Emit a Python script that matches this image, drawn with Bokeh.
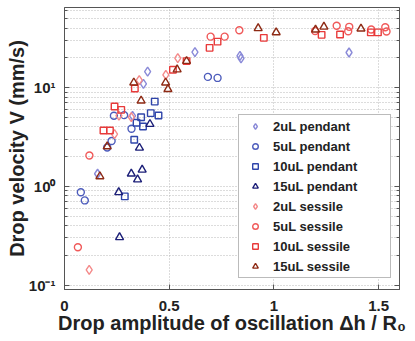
from bokeh.plotting import figure
from bokeh.models import LogAxis, FixedTicker, Legend, LegendItem
from bokeh.embed import file_html
from bokeh.resources import INLINE

# ---- data ----
p2_x = [0.158, 0.325, 0.377, 0.397, 0.623, 0.838, 0.843, 1.359]
p2_y = [1.34, 5.15, 10.9, 14.5, 22.8, 20.9, 19.7, 22.6]

p5_x = [0.078, 0.097, 0.204, 0.225, 0.236, 0.285, 0.320, 0.685, 0.731]
p5_y = [0.87, 0.72, 2.47, 2.87, 5.18, 5.25, 3.82, 12.8, 12.5]

p10_x = [0.288, 0.333, 0.344, 0.375, 0.366, 0.412, 0.431, 0.449]
p10_y = [0.79, 2.96, 4.4, 4.03, 5.0, 5.5, 7.2, 5.2]

p15_x = [0.263, 0.259, 0.319, 0.349, 0.371, 0.358, 0.408]
p15_y = [0.305, 0.87, 1.34, 1.17, 1.47, 2.45, 4.26]

s2_x = [0.118, 0.239, 0.260, 0.319, 0.357, 0.484, 0.541]
s2_y = [0.143, 3.38, 5.18, 5.02, 11.9, 13.4, 19.8]

s5_x = [0.064, 0.119, 0.698, 0.765, 0.835, 1.197, 1.300, 1.360, 1.355, 1.465, 1.532, 1.538]
s5_y = [0.242, 2.05, 32.7, 32.7, 37.9, 37.3, 42.1, 41.1, 37.1, 38.6, 40.7, 36.9]

s10_x = [0.186, 0.217, 0.239, 0.271, 0.336, 0.518, 0.583, 0.693, 0.731, 0.952, 1.228, 1.316, 1.463, 1.497]
s10_y = [3.67, 3.67, 6.43, 5.94, 9.77, 15.1, 18.5, 25.2, 29.1, 31.8, 34.1, 34.4, 36.1, 36.1]

s15_x = [0.169, 0.204, 0.331, 0.366, 0.483, 0.494, 0.538, 0.583, 0.925, 1.011, 1.199, 1.239, 1.416]
s15_y = [1.26, 2.53, 11.2, 7.35, 11.2, 9.6, 15.2, 18.5, 39.7, 36.1, 38.4, 41.1, 39.4]

x_ticks = [0, 0.5, 1, 1.5]
x_tick_labels = {0: "0", 0.5: "0.5", 1: "1", 1.5: "1.5"}
y_ticks = [0.1, 1, 10]
y_tick_labels = {0.1: "10\u207b\u00b9", 1: "10\u2070", 10: "10\u00b9"}
y_minor = [0.09, 0.2, 0.3, 0.4, 0.5, 0.6, 0.7, 0.8, 0.9, 2, 3, 4, 5, 6, 7, 8, 9, 20, 30, 40, 50, 60]

FONT = "Liberation Sans"
TXT = "#222222"
AX = "#555555"

p = figure(width=415, height=341, x_range=(0, 1.6), y_range=(0.0903, 64.5),
           y_axis_type="log", output_backend="svg", toolbar_location=None,
           min_border_left=64, min_border_right=16, min_border_top=7,
           min_border_bottom=52)
p.outline_line_color = AX
p.background_fill_color = "white"

series = [
    (p2_x, p2_y, "diamond", "#8a8ad8", 9, "2uL pendant"),
    (p5_x, p5_y, "circle", "#4d5cbc", 7, "5uL pendant"),
    (p10_x, p10_y, "square", "#2f45aa", 6.5, "10uL pendant"),
    (p15_x, p15_y, "triangle", "#1c1f78", 8, "15uL pendant"),
    (s2_x, s2_y, "diamond", "#f48a8a", 9, "2uL sessile"),
    (s5_x, s5_y, "circle", "#f05a5a", 7, "5uL sessile"),
    (s10_x, s10_y, "square", "#e83a3a", 6.5, "10uL sessile"),
    (s15_x, s15_y, "triangle", "#8e2a14", 8, "15uL sessile"),
]
items = []
for xs, ys, mk, col, sz, name in series:
    r = p.scatter(xs, ys, marker=mk, size=sz, fill_color=None, line_color=col, line_width=1.4)
    items.append(LegendItem(label=name, renderers=[r]))

# axes
xa = p.xaxis[0]
xa.ticker = FixedTicker(ticks=x_ticks)
xa.major_label_overrides = x_tick_labels
ya = p.yaxis[0]
ya.ticker = FixedTicker(ticks=y_ticks, minor_ticks=y_minor)
ya.major_label_overrides = y_tick_labels
for ax in (xa, ya):
    ax.major_tick_in = 5
    ax.major_tick_out = 0
    ax.minor_tick_in = 3
    ax.minor_tick_out = 0
    ax.axis_line_color = AX
    ax.major_tick_line_color = AX
    ax.minor_tick_line_color = AX
    ax.major_label_text_font = FONT
    ax.major_label_text_font_style = "bold"
    ax.major_label_text_font_size = "15px"
    ax.major_label_text_color = TXT
    ax.axis_label_text_font = FONT
    ax.axis_label_text_font_style = "bold"
    ax.axis_label_text_font_size = "20px"
    ax.axis_label_text_color = TXT
xa.minor_tick_line_color = None
xa.axis_label = "Drop amplitude of oscillation \u0394h / R\u2080"
ya.axis_label = "Drop velocity V (mm/s)"
xa.major_label_standoff = 11
xa.axis_label_standoff = -2
ya.major_label_standoff = 9
ya.axis_label_standoff = -2

ra = LogAxis(ticker=FixedTicker(ticks=y_ticks, minor_ticks=y_minor),
             major_label_overrides={0.1: "", 1: "", 10: ""},
             major_label_standoff=0,
             major_tick_in=5, major_tick_out=0, minor_tick_in=3, minor_tick_out=0,
             axis_line_color=AX, major_tick_line_color=AX,
             minor_tick_line_color=AX)
p.add_layout(ra, "right")

# grid
for g in (p.xgrid[0], p.ygrid[0]):
    g.grid_line_color = "#b8b8b8"
    g.grid_line_dash = "1 2"
    g.grid_line_width = 1
p.xgrid[0].ticker = FixedTicker(ticks=x_ticks)
p.ygrid[0].ticker = FixedTicker(ticks=y_ticks, minor_ticks=y_minor)
p.ygrid[0].minor_grid_line_color = "#b8b8b8"
p.ygrid[0].minor_grid_line_dash = "1 2"

legend = Legend(items=items, location=(174, 11), padding=1, spacing=0,
                glyph_width=30, glyph_height=14, label_height=20, label_width=116,
                label_standoff=3, label_text_font=FONT, label_text_font_style="bold",
                label_text_font_size="13px", label_text_color=TXT,
                border_line_color="#777777", border_line_width=1,
                background_fill_color="white", background_fill_alpha=1.0)
p.add_layout(legend)

open("out.html", "w").write(file_html(p, INLINE))
